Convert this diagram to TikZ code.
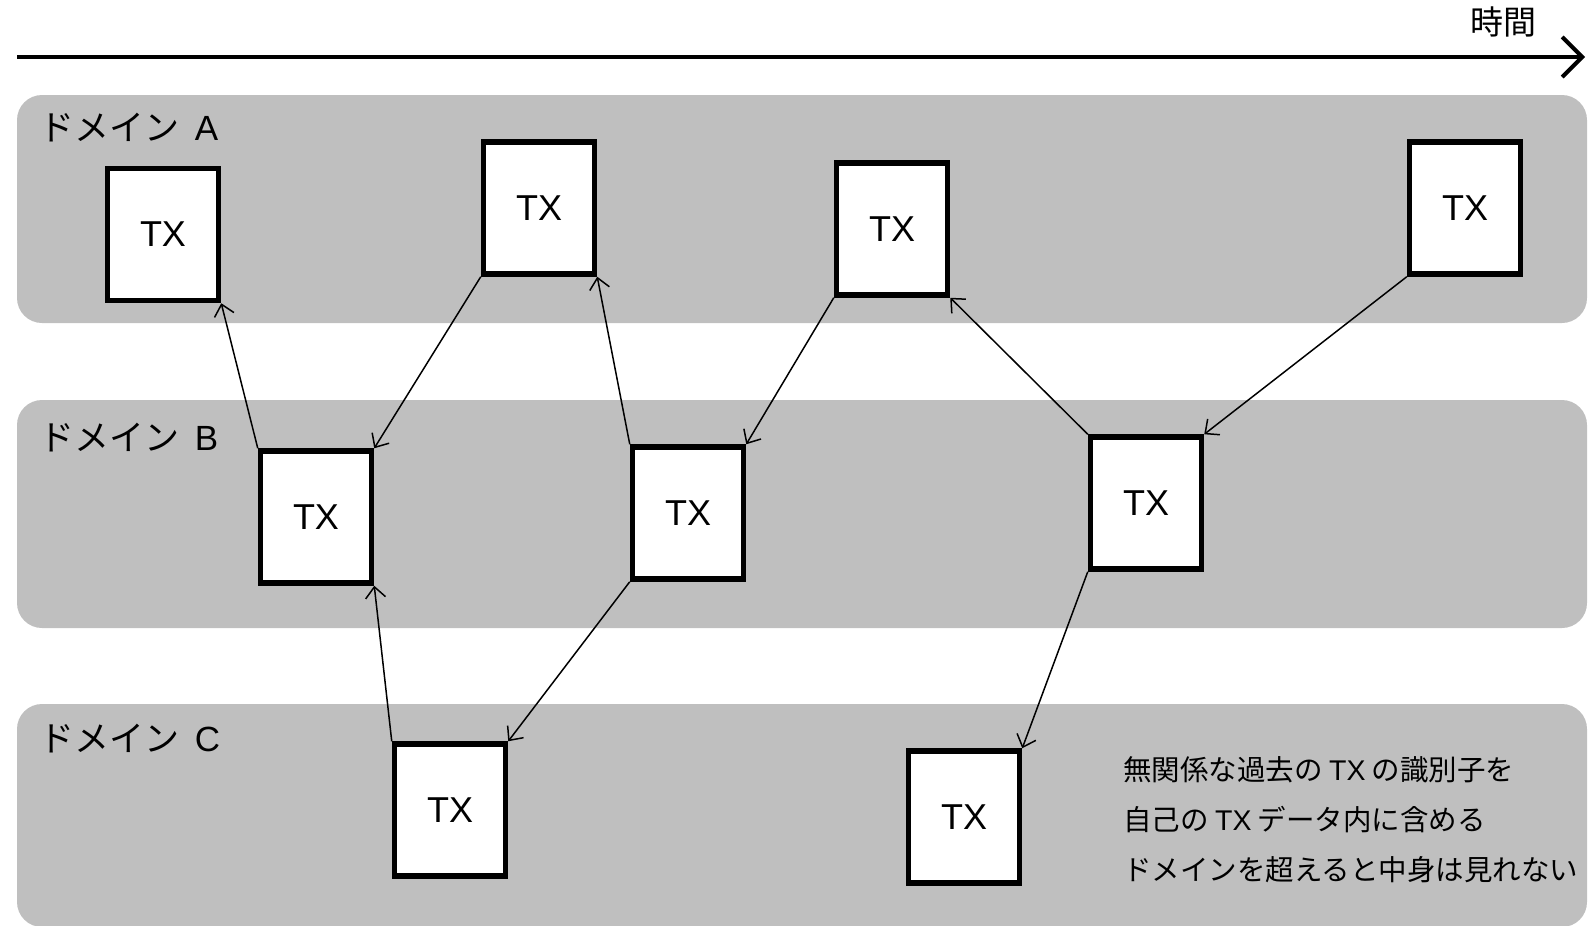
\documentclass[tikz,border=0pt]{standalone}
\usepackage{fontspec}
\setmainfont{Noto Sans CJK JP}
\newfontfamily\lat{Liberation Sans}
\usetikzlibrary{arrows.meta}
\definecolor{bandgray}{RGB}{191,191,191}
\begin{document}
\begin{tikzpicture}[x=1pt,y=-1pt,
  band/.style={fill=bandgray, draw=none, rounded corners=25pt},
  tx/.style={draw, line width=5.5pt, fill=white, minimum width=111pt, minimum height=132pt, inner sep=0pt, font=\fontsize{36}{40}\selectfont\lat},
  link/.style={line width=1.5pt, -{Straight Barb[length=11pt,width=20pt]}},
  dlabel/.style={anchor=west, inner sep=0pt, font=\fontsize{35}{40}\selectfont},
  note/.style={anchor=west, inner sep=0pt, font=\fontsize{28.5}{34}\selectfont}]
\useasboundingbox (0,0) rectangle (1590,926);
% bands
\fill[band] (17,95) rectangle (1587,323);
\fill[band] (17,400) rectangle (1587,628);
\fill[band] (17,704) rectangle (1587,927);
% time axis
\coordinate (t0) at (17,57);
\coordinate (t1) at (1585,57);
\draw[line width=4pt, -{Straight Barb[length=20pt,width=40pt]}] (t0) -- (t1);
\node[inner sep=0pt, font=\fontsize{33}{36}\selectfont] (time) at (1503,22) {時間};
% domain labels
\node[dlabel] (la) at (39,128) {ドメイン\hspace{0.45em}{\lat A}};
\node[dlabel] (lb) at (39,438) {ドメイン\hspace{0.45em}{\lat B}};
\node[dlabel] (lc) at (39,739) {ドメイン\hspace{0.45em}{\lat C}};
% transactions
\node[tx] (a1) at (163,234.5) {TX};
\node[tx] (a2) at (539,208) {TX};
\node[tx] (a3) at (892,229) {TX};
\node[tx] (a4) at (1465,208) {TX};
\node[tx] (b1) at (316,517) {TX};
\node[tx] (b2) at (688,513) {TX};
\node[tx] (b3) at (1146,503) {TX};
\node[tx] (c1) at (450,810) {TX};
\node[tx] (c2) at (964,817) {TX};
% links
\draw[link] (b1.north west) -- (a1.south east);
\draw[link] (a2.south west) -- (b1.north east);
\draw[link] (b2.north west) -- (a2.south east);
\draw[link] (a3.south west) -- (b2.north east);
\draw[link] (b3.north west) -- (a3.south east);
\draw[link] (a4.south west) -- (b3.north east);
\draw[link] (c1.north west) -- (b1.south east);
\draw[link] (b2.south west) -- (c1.north east);
\draw[link] (b3.south west) -- (c2.north east);
% note
\node[note] (n1) at (1123,770) {無関係な過去の {\lat TX} の識別子を};
\node[note] (n2) at (1123,820) {自己の {\lat TX} データ内に含める};
\node[note] (n3) at (1123,870) {ドメインを超えると中身は見れない};
\end{tikzpicture}
\end{document}
